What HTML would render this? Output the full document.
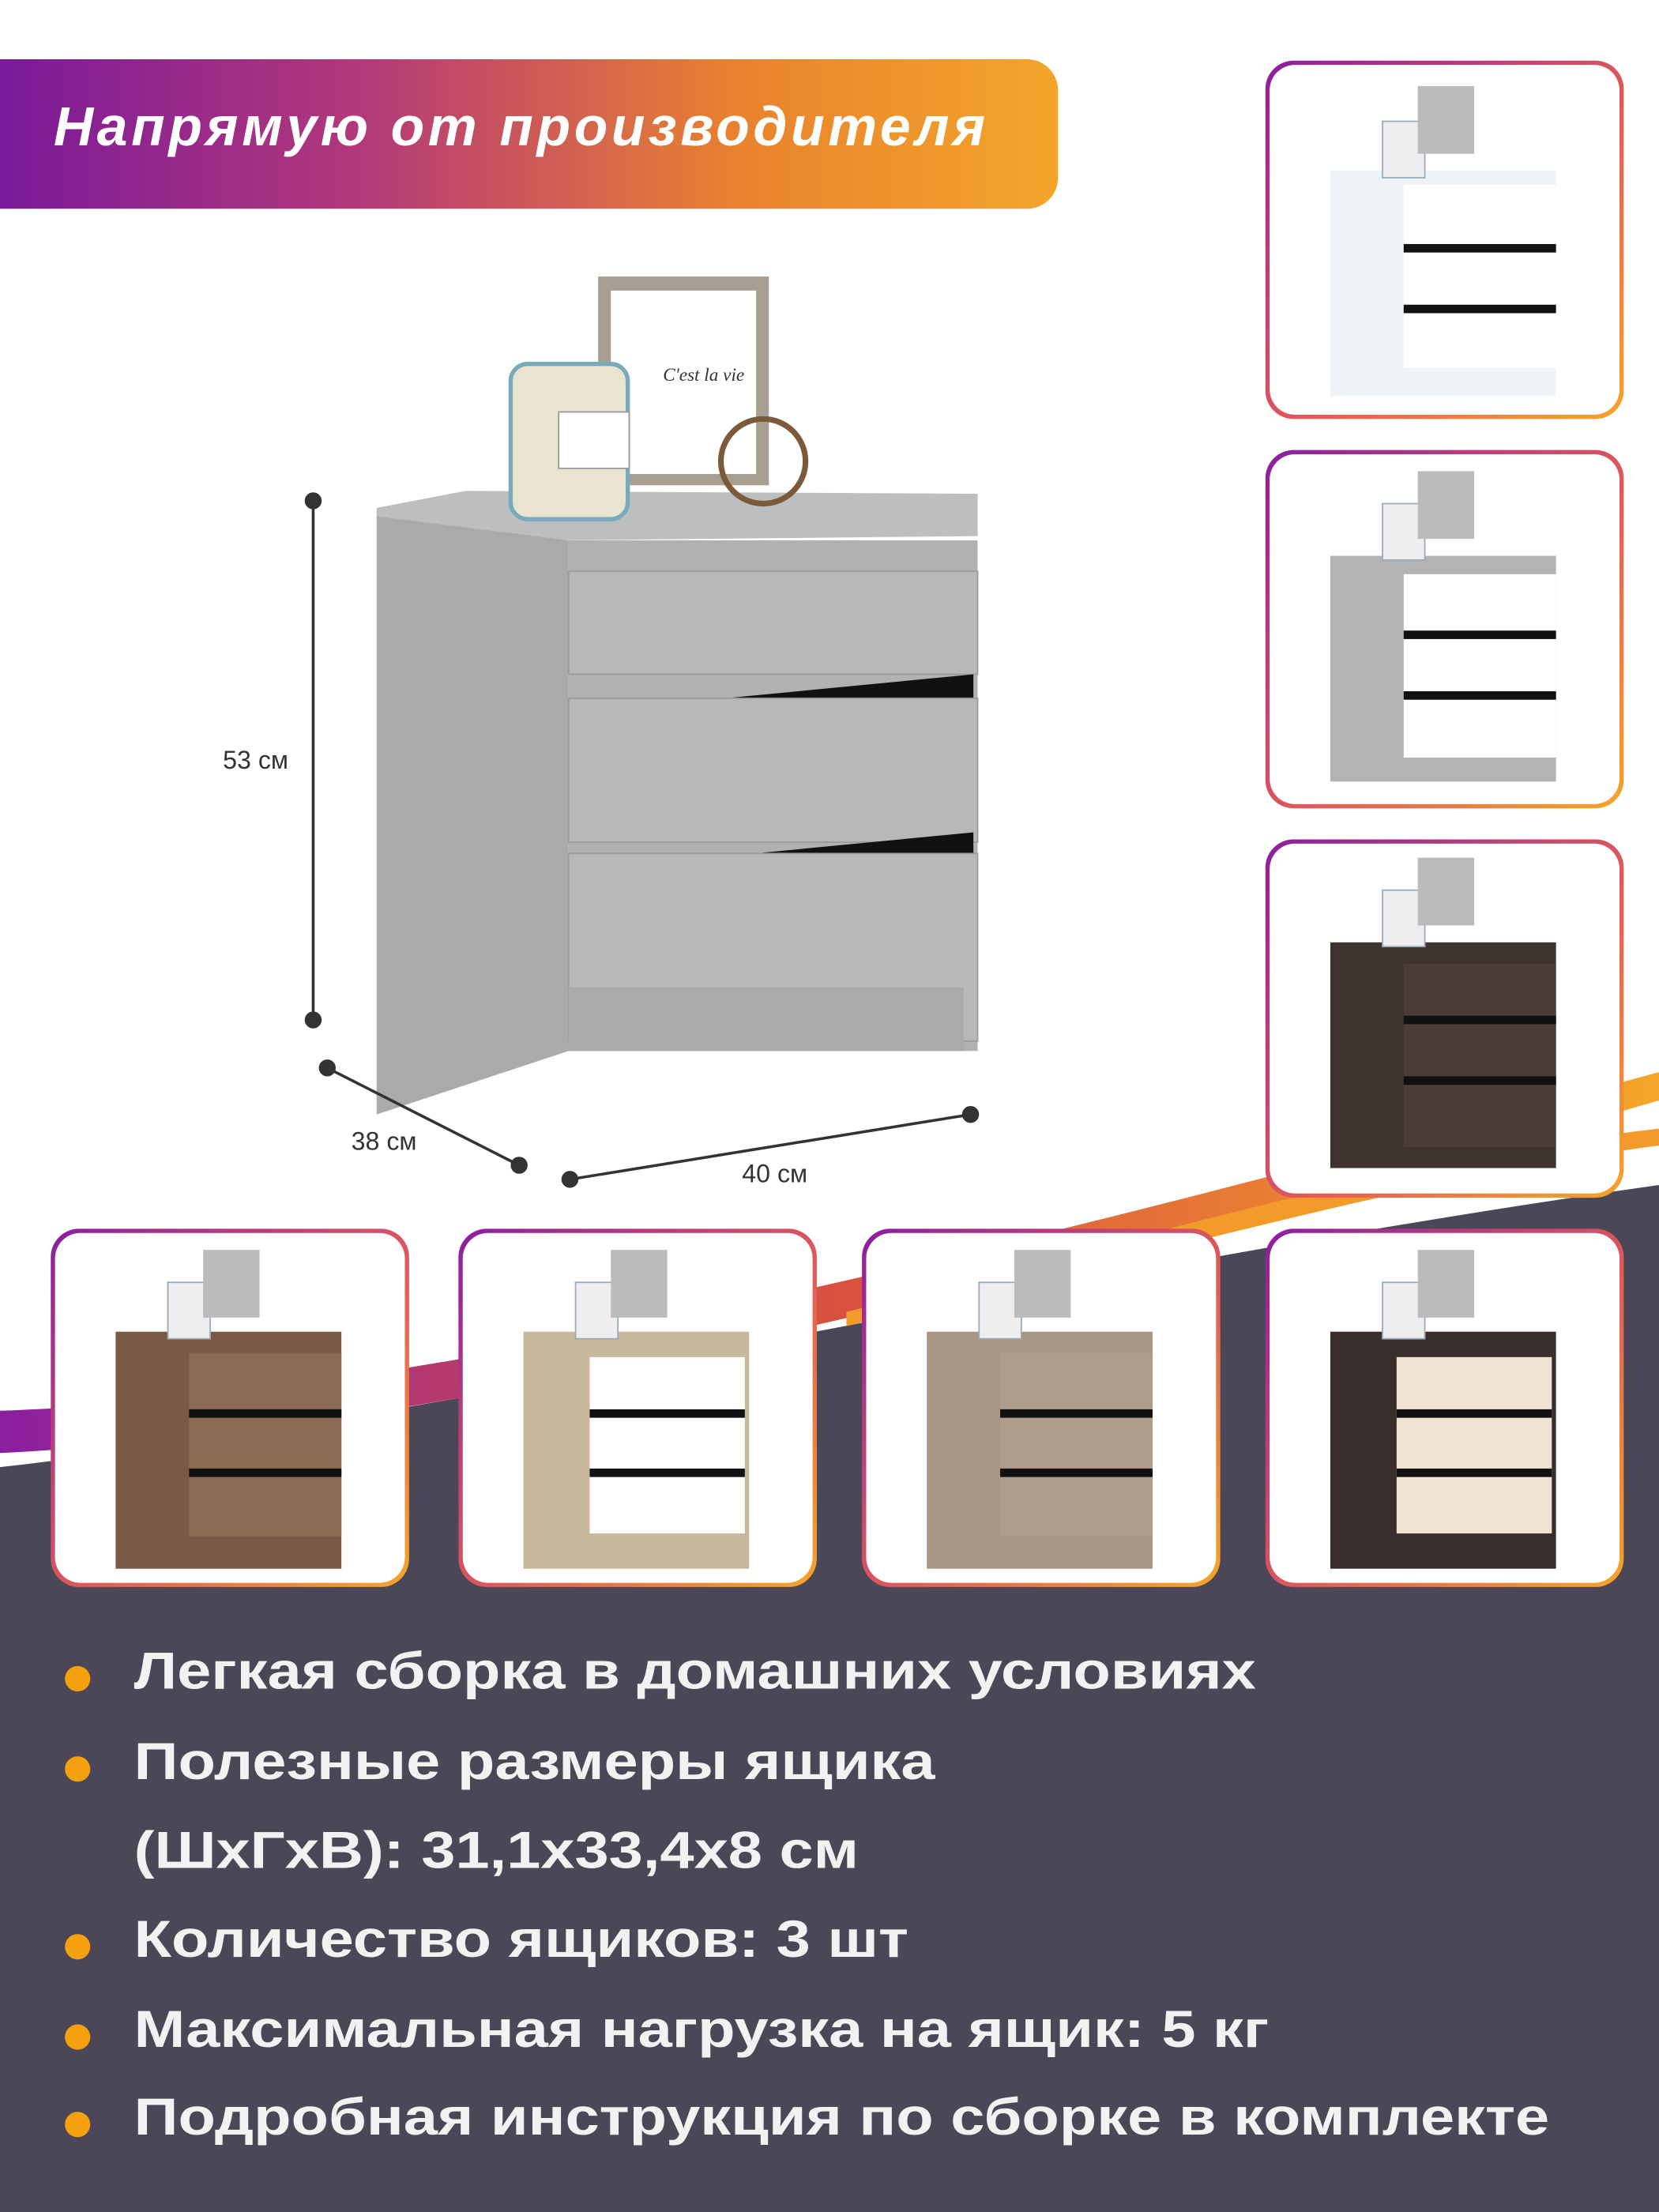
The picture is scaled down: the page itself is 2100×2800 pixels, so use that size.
<!DOCTYPE html>
<html><head><meta charset="utf-8"><style>
html,body{margin:0;padding:0;background:#fff;}
#wrap{width:1176px;height:1568px;position:relative;transform:scale(1.785714);transform-origin:0 0;overflow:hidden;font-family:"Liberation Sans",sans-serif;}
.banner{position:absolute;left:0;top:42px;width:750px;height:106px;border-radius:0 22px 22px 0;background:linear-gradient(90deg,#7a1a9a 0%,#b43a78 35%,#e9832e 70%,#f3a52a 100%);}
.banner span{position:absolute;left:38px;top:27px;color:#fff;font-weight:bold;font-style:italic;font-size:39px;letter-spacing:2.6px;}
.th{position:absolute;width:248px;height:248px;border-radius:20px;background:linear-gradient(135deg,#8a1fa0,#e05a5a 55%,#f5a52a);padding:3px;box-sizing:content-box;}
.th>div{width:248px;height:248px;border-radius:18px;background:#fff;position:relative;overflow:hidden;}
.bul{position:absolute;left:95px;color:#f2f2f2;font-weight:bold;font-size:37px;transform:scaleX(1.175);transform-origin:0 0;white-space:nowrap;}
.dot{position:absolute;left:46px;width:18px;height:18px;border-radius:50%;background:#f5a00f;}
.dim{position:absolute;font-size:18px;color:#333;}
</style></head><body><div id="wrap">
<svg width="1176" height="1568" style="position:absolute;left:0;top:0">
<defs><linearGradient id="sw" x1="0" x2="1"><stop offset="0" stop-color="#8a1fa0"/><stop offset="0.5" stop-color="#d9503f"/><stop offset="1" stop-color="#f6a52a"/></linearGradient></defs>
<path d="M0,1000 C300,990 700,890 1176,760 L1176,780 C700,920 300,1015 0,1030Z" fill="url(#sw)"/>
<path d="M0,1040 C350,1000 750,900 1176,840 L1176,1568 L0,1568Z" fill="#4b4756"/>
<path d="M600,930 C800,880 1000,820 1176,800 L1176,812 C1000,835 800,895 600,940Z" fill="#f29a2a"/>
<polygon points="267,365 267,790 403,745 403,383" fill="#a9aaab"/>
<polygon points="267,360 330,348 693,350 693,380 403,383 267,366" fill="#bdbebf"/>
<rect x="403" y="383" width="290" height="362" fill="#b0b1b2"/>
<rect x="403" y="405" width="290" height="73" fill="#b7b8b9" stroke="#9a9b9c"/>
<polygon points="410,505 690,478 690,495 410,525" fill="#111"/>
<rect x="403" y="495" width="290" height="102" fill="#b7b8b9" stroke="#9a9b9c"/>
<polygon points="410,617 690,590 690,605 410,637" fill="#111"/>
<rect x="403" y="605" width="290" height="133" fill="#b7b8b9" stroke="#9a9b9c"/>
<rect x="403" y="700" width="280" height="45" fill="#a9aaab"/>
<rect x="424" y="196" width="121" height="148" fill="#a89f93"/><rect x="433" y="206" width="103" height="130" fill="#fff"/>
<text x="470" y="270" font-family="Liberation Serif" font-style="italic" font-size="13" fill="#333">C'est la vie</text>
<rect x="362" y="258" width="83" height="110" rx="12" fill="#e8e4d0" stroke="#7ab" stroke-width="3"/>
<rect x="396" y="292" width="50" height="40" fill="#fff" stroke="#999"/>
<circle cx="541" cy="327" r="30" fill="none" stroke="#7a5a3a" stroke-width="4"/>
<g stroke="#333" stroke-width="2" fill="#333"><line x1="222" y1="355" x2="222" y2="723"/><circle cx="222" cy="355" r="5"/><circle cx="222" cy="723" r="5"/>
<line x1="232" y1="757" x2="368" y2="826"/><circle cx="232" cy="757" r="5"/><circle cx="368" cy="826" r="5"/>
<line x1="404" y1="836" x2="688" y2="790"/><circle cx="404" cy="836" r="5"/><circle cx="688" cy="790" r="5"/></g>
</svg>
<div class="banner"><span>Напрямую от производителя</span></div>
<div class="dim" style="left:158px;top:529px">53 см</div>
<div class="dim" style="left:249px;top:799px">38 см</div>
<div class="dim" style="left:526px;top:822px">40 см</div>

<div class="th" style="left:897px;top:43px"><div><svg width="248" height="248"><rect x="43" y="75" width="160" height="160" fill="#f0f3f6"/><rect x="95" y="85" width="108" height="130" fill="#fff"/><g fill="#111"><rect x="95" y="127" width="108" height="6"/><rect x="95" y="170" width="108" height="6"/></g><rect x="80" y="40" width="30" height="40" fill="#eee" stroke="#9ab"/><rect x="105" y="15" width="40" height="48" fill="#bbb"/></svg></div></div>
<div class="th" style="left:897px;top:319px"><div><svg width="248" height="248"><rect x="43" y="72" width="160" height="160" fill="#b2b3b4"/><rect x="95" y="85" width="108" height="130" fill="#fff"/><g fill="#111"><rect x="95" y="125" width="108" height="6"/><rect x="95" y="168" width="108" height="6"/></g><rect x="80" y="35" width="30" height="40" fill="#eee" stroke="#9ab"/><rect x="105" y="12" width="40" height="48" fill="#bbb"/></svg></div></div>
<div class="th" style="left:897px;top:595px"><div><svg width="248" height="248"><rect x="43" y="70" width="160" height="160" fill="#3f3330"/><rect x="95" y="85" width="108" height="130" fill="#4a3c38"/><g fill="#111"><rect x="95" y="122" width="108" height="6"/><rect x="95" y="165" width="108" height="6"/></g><rect x="80" y="33" width="30" height="40" fill="#eee" stroke="#9ab"/><rect x="105" y="10" width="40" height="48" fill="#bbb"/></svg></div></div>
<div class="th" style="left:36px;top:871px"><div><svg width="248" height="248"><rect x="43" y="70" width="160" height="168" fill="#7a5a44"/><rect x="95" y="85" width="108" height="130" fill="#8a6a52"/><g fill="#111"><rect x="95" y="125" width="108" height="6"/><rect x="95" y="167" width="108" height="6"/></g><rect x="80" y="35" width="30" height="40" fill="#eee" stroke="#9ab"/><rect x="105" y="12" width="40" height="48" fill="#bbb"/></svg></div></div>
<div class="th" style="left:325px;top:871px"><div><svg width="248" height="248"><rect x="43" y="70" width="160" height="168" fill="#c8b89c"/><rect x="90" y="88" width="110" height="125" fill="#fff"/><g fill="#111"><rect x="90" y="125" width="110" height="6"/><rect x="90" y="167" width="110" height="6"/></g><rect x="80" y="35" width="30" height="40" fill="#eee" stroke="#9ab"/><rect x="105" y="12" width="40" height="48" fill="#bbb"/></svg></div></div>
<div class="th" style="left:611px;top:871px"><div><svg width="248" height="248"><rect x="43" y="70" width="160" height="168" fill="#a89584"/><rect x="95" y="85" width="108" height="130" fill="#b09c8a"/><g fill="#111"><rect x="95" y="125" width="108" height="6"/><rect x="95" y="167" width="108" height="6"/></g><rect x="80" y="35" width="30" height="40" fill="#eee" stroke="#9ab"/><rect x="105" y="12" width="40" height="48" fill="#bbb"/></svg></div></div>
<div class="th" style="left:897px;top:871px"><div><svg width="248" height="248"><rect x="43" y="70" width="160" height="168" fill="#3a2e2c"/><rect x="90" y="88" width="110" height="125" fill="#efe4d4"/><g fill="#111"><rect x="90" y="125" width="110" height="6"/><rect x="90" y="167" width="110" height="6"/></g><rect x="80" y="35" width="30" height="40" fill="#eee" stroke="#9ab"/><rect x="105" y="12" width="40" height="48" fill="#bbb"/></svg></div></div>

<div class="dot" style="top:1181px"></div><div class="bul" style="top:1164px">Легкая сборка в домашних условиях</div>
<div class="dot" style="top:1245px"></div><div class="bul" style="top:1228px">Полезные размеры ящика</div>
<div class="bul" style="top:1291px">(ШхГхВ): 31,1х33,4х8 см</div>
<div class="dot" style="top:1371px"></div><div class="bul" style="top:1354px">Количество ящиков: 3 шт</div>
<div class="dot" style="top:1435px"></div><div class="bul" style="top:1418px">Максимальная нагрузка на ящик: 5 кг</div>
<div class="dot" style="top:1497px"></div><div class="bul" style="top:1480px">Подробная инструкция по сборке в комплекте</div>
</div></body></html>
